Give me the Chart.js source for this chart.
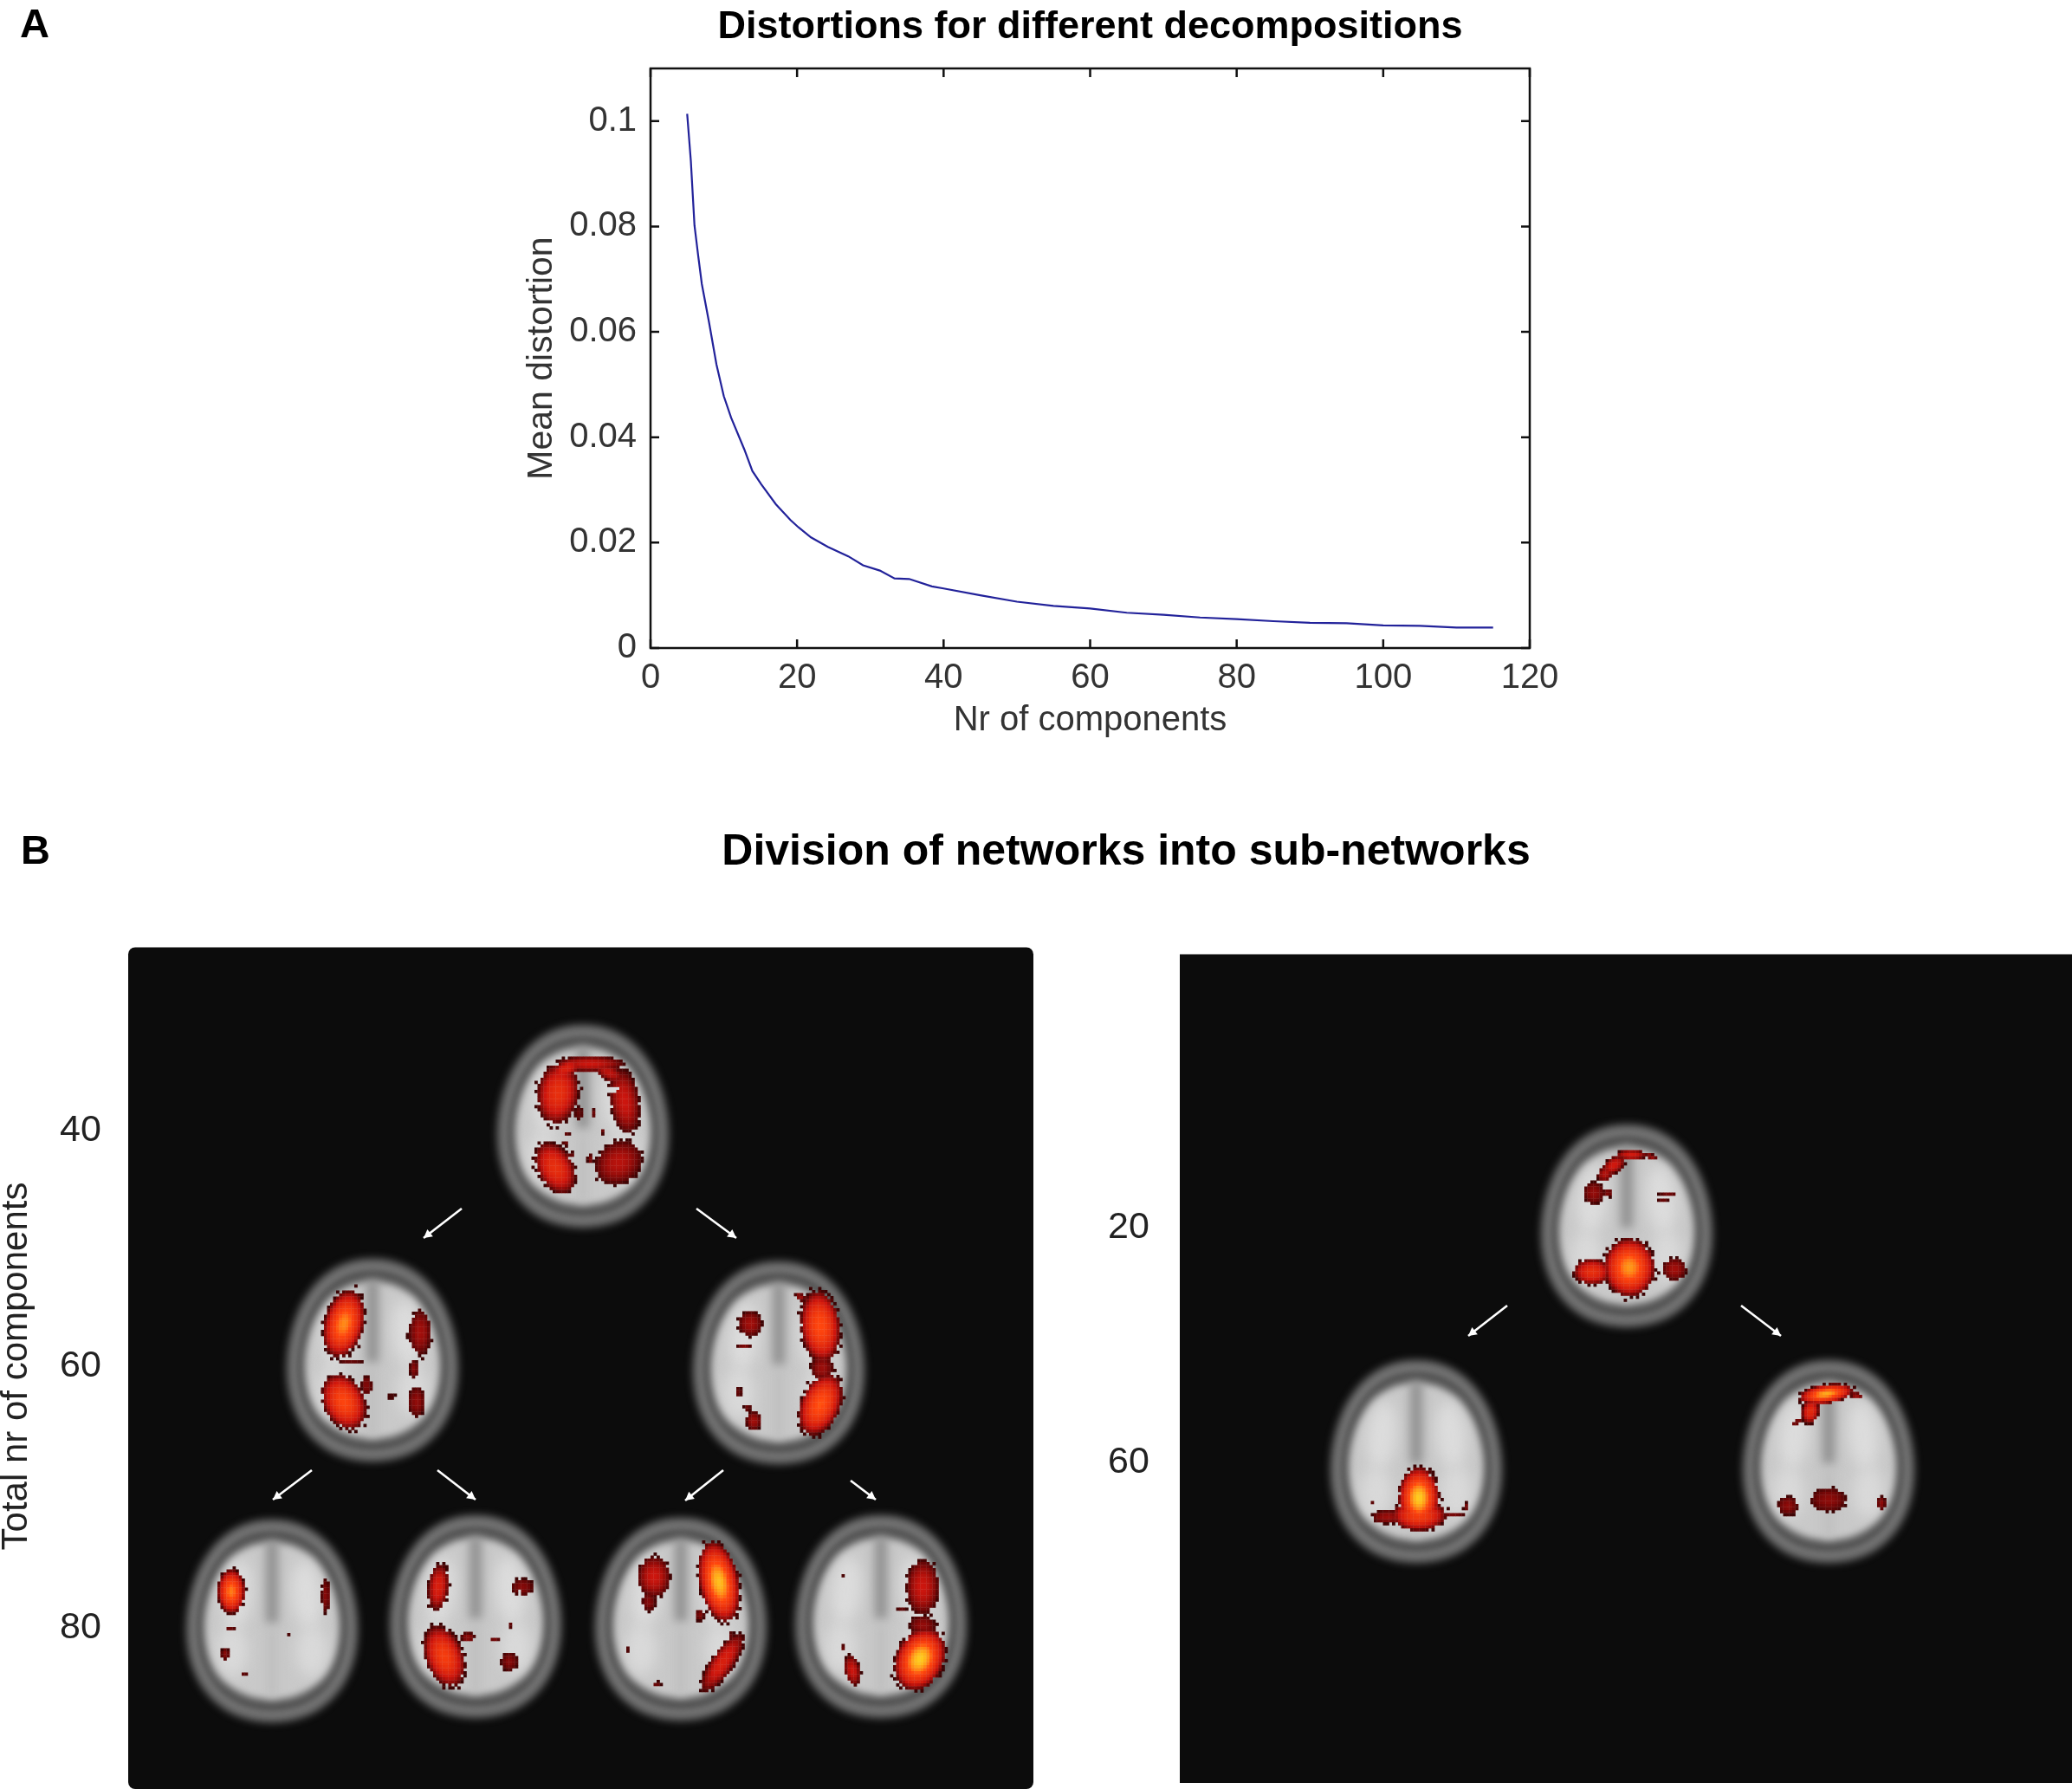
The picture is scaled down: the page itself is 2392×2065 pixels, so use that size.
<!DOCTYPE html>
<html>
<head>
<meta charset="utf-8">
<title>Distortions for different decompositions</title>
<script src="https://cdn.jsdelivr.net/npm/chart.js@4"></script>
<style>
  html, body { margin: 0; background: #fff; }
  canvas { position: absolute; left: 0; }
  #myChart { top: 0; }
  #brainChart { top: 880px; }
</style>
</head>
<body>
<canvas id="brainChart" width="2392" height="1185"></canvas>
<canvas id="myChart" width="2392" height="880"></canvas>
<script>
/*********************panel A data ***********************/
let nrComponents = [5, 5.5, 6, 6.5, 7, 8, 9, 10, 11, 12.8, 13.9, 15.1, 17.1, 19.1, 20.2, 21.9, 24.2, 27, 29, 31.3, 33.3, 35.3, 38.4, 40, 45, 50, 55, 60, 65, 70, 75, 80, 85, 90, 95, 100, 105, 110, 115];
let meanDistortion = [0.1014, 0.0925, 0.0802, 0.0745, 0.0691, 0.0617, 0.0538, 0.0478, 0.0437, 0.0377, 0.0336, 0.0311, 0.0273, 0.0243, 0.0229, 0.0210, 0.0192, 0.0174, 0.0157, 0.0147, 0.0132, 0.0131, 0.0117, 0.0113, 0.0100, 0.0088, 0.0080, 0.0075, 0.0067, 0.0063, 0.0058, 0.0055, 0.0051, 0.0048, 0.0047, 0.0043, 0.0042, 0.0039, 0.0039];

/*********************panel B data ***********************/
// brain slices, same order in all three arrays
let brainX = [673, 430, 899, 314, 549, 786, 1017, 1878, 1635, 2111];
let brainY = [1300, 1570, 1573, 1871, 1866, 1869, 1866, 1415, 1687, 1687];
// activation blobs of every slice: dx, dy, rx, ry, rotation, peak (peak 0 cuts a hole)
let brainBlobs = [
  [[-29,-38,24,36,0.15,0.62],[8,-72,40,9,0,0.42],[-20,-66,22,10,-0.5,0.5],[30,-62,20,9,0.5,0.38],[48,-29,17,38,-0.15,0.42],[-32,48,21,32,-0.5,0.62],[41,42,29,24,-0.6,0.36],[34,-42,6,5,0,0],[28,-30,3,4,0,0],[-14,38,3,3,0,0],[-5,-15,5,8,0,0.12],[-20,20,4,3,0,0.15],[12,-15,3,5,0,0.15],[-14,36,3,8,0,0.18],[8,38,3,6,0,0.2],[-18,8,3,2,0,0.15],[22,6,3,3,0,0.15]],
  [[-33,-42,23,40,0.25,0.9],[55,-32,13,27,0,0.3],[-33,48,24,34,-0.45,0.78],[51,48,10,18,0,0.25],[-7,29,6,11,0,0.22],[48,10,5,11,0,0.22],[-25,2,14,2,0,0.12],[22,42,8,2,0,0.12],[-1,30,2,6,0,0.12],[44,-28,8,2,0,0.2]],
  [[-33,-45,14,15,0,0.3],[48,-42,23,42,-0.1,0.8],[48,48,23,38,0.4,0.82],[50,6,13,15,0,0.28],[-29,67,9,11,0,0.3],[-40,-19,8,2,0,0.2],[-46,34,3,6,0,0.15],[-36,52,4,4,0,0.15],[25,-76,7,4,0.6,0.28]],
  [[-47,-34,16,26,0,0.88],[62,-29,5,20,0,0.22],[-54,38,5,7,0,0.22],[-32,62,4,3,0,0.12],[20,17,4,1.5,0,0.12],[-48,8,6,3,0,0.14]],
  [[-43,-34,12,27,0.1,0.5],[-36,46,22,37,-0.35,0.72],[54,-34,13,10,0,0.22],[39,52,10,11,0,0.22],[-9,24,8,6,0,0.25],[22,27,6,2,0,0.2],[-45,12,7,2,0,0.12],[40,10,3,3,0,0.12],[50,-28,3,3,0,0]],
  [[-31,-49,19,24,0,0.42],[-37,-20,8,11,0,0.22],[44,-43,23,48,-0.2,0.98],[48,50,13,40,0.6,0.5],[-28,75,5,3,0,0.15],[-60,35,2,5,0,0.1],[22,-5,5,7,0,0.2],[58,18,3,3,0,0.15]],
  [[48,-34,19,32,0,0.42],[45,49,28,38,0.45,1],[48,10,15,11,0,0.26],[-33,62,9,18,-0.2,0.42],[-45,-46,5,1.5,0,0.15],[-44,36,3,4,0,0.12],[24,-8,6,2,0,0.12]],
  [[3,48,30,34,0,0.92],[-40,53,22,15,0,0.62],[55,50,14,13,0,0.3],[5,-82,18,6,0,0.45],[-15,-70,15,9,-0.6,0.45],[-25,-60,10,8,-0.8,0.35],[-38,-38,12,13,0,0.26],[-22,-38,6,5,0,0.2],[48,-37,10,3,0,0.16],[44,-46,4,2,0,0],[28,-80,7,3,0.4,0.3],[42,-30,6,2,0,0.14]],
  [[3,42,24,36,0,1],[3,62,32,18,0,0.72],[-33,64,19,8,0,0.28],[42,61,14,3,0,0.18],[-52,47,2,2,0,0.15],[57,52,3,5,0,0.18]],
  [[-3,-78,32,11,-0.15,0.95],[-21,-58,10,15,0.2,0.58],[-36,-46,9,3,-0.5,0.2],[32,-76,8,4,0.3,0.28],[0,44,21,14,0,0.24],[-47,51,12,11,0,0.24],[61,48,5,8,0,0.24]]
];
// arrows: start and tip of every one
let arrowFromX = [533, 804, 360, 505, 835, 982, 1740, 2010];
let arrowFromY = [1395, 1395, 1697, 1697, 1697, 1709, 1507, 1507];
let arrowToX = [489, 850, 315, 549, 791, 1011, 1695, 2056];
let arrowToY = [1429, 1429, 1731, 1731, 1732, 1731, 1542, 1542];
// component labels next to the black panels
let rowLabels = ['40', '60', '80', '20', '60'];
let rowLabelX = [93, 93, 93, 1303, 1303];
let rowLabelY = [1305, 1577, 1879, 1417, 1688];

const FONT = '"Liberation Sans", Arial, sans-serif';

/*********************panel A ***********************/
// matlab style box: ticks go inwards on all four sides
const matlabBox = {
  id: 'matlabBox',
  afterDraw(chart) {
    const c = chart.ctx, a = chart.chartArea;
    c.save();
    c.strokeStyle = '#111';
    c.lineWidth = 2.5;
    c.strokeRect(a.left, a.top, a.right - a.left, a.bottom - a.top);
    c.beginPath();
    chart.scales.x.ticks.forEach(t => {
      const p = chart.scales.x.getPixelForValue(t.value);
      c.moveTo(p, a.bottom); c.lineTo(p, a.bottom - 10);
      c.moveTo(p, a.top); c.lineTo(p, a.top + 10);
    });
    chart.scales.y.ticks.forEach(t => {
      const p = chart.scales.y.getPixelForValue(t.value);
      c.moveTo(a.left, p); c.lineTo(a.left + 10, p);
      c.moveTo(a.right, p); c.lineTo(a.right - 10, p);
    });
    c.stroke();
    c.fillStyle = '#000';
    c.font = 'bold 47px ' + FONT;
    c.textAlign = 'center';
    c.textBaseline = 'middle';
    c.fillText('A', 40, 30);
    c.restore();
  }
};

var ctx = document.getElementById('myChart');
var myChart = new Chart(ctx, {
  type: 'scatter',
  data: {
    datasets: [{
      label: 'Mean distortion',
      data: nrComponents.map((n, i) => ({ x: n, y: meanDistortion[i] })),
      showLine: true,
      borderColor: '#22229a',
      borderWidth: 2.2,
      pointRadius: 0,
      tension: 0
    }]
  },
  options: {
    responsive: false,
    animation: false,
    devicePixelRatio: 1,
    layout: { padding: { left: 601, right: 626, top: 0, bottom: 24 } },
    plugins: {
      legend: { display: false },
      tooltip: { enabled: false },
      title: {
        display: true,
        fullSize: false,
        text: 'Distortions for different decompositions',
        color: '#000',
        font: { family: FONT, size: 45, weight: 'bold', lineHeight: 1.2 },
        padding: { top: 5, bottom: 20 }
      }
    },
    scales: {
      x: {
        type: 'linear', min: 0, max: 120,
        grid: { display: false },
        border: { display: false },
        afterFit(s) { s.height = 108; },
        ticks: { stepSize: 20, padding: 3, maxRotation: 0, color: '#333', font: { family: FONT, size: 40 } },
        title: { display: true, text: 'Nr of components', color: '#333', padding: 0, font: { family: FONT, size: 40 } }
      },
      y: {
        type: 'linear', min: 0, max: 0.11,
        grid: { display: false },
        border: { display: false },
        afterFit(s) { s.width = 150; },
        ticks: {
          stepSize: 0.02, includeBounds: false, padding: 8, color: '#333', font: { family: FONT, size: 40 },
          callback: v => String(+v.toFixed(2))
        },
        title: { display: true, text: 'Mean distortion', color: '#333', padding: 0, font: { family: FONT, size: 41 } }
      }
    }
  },
  plugins: [matlabBox]
});

/*********************panel B ***********************/
function egg(c, rx, ry) {
  c.beginPath();
  c.moveTo(0, -ry);
  c.bezierCurveTo(rx * 0.72, -ry, rx, -ry * 0.38, rx, ry * 0.08);
  c.bezierCurveTo(rx, ry * 0.62, rx * 0.62, ry, 0, ry);
  c.bezierCurveTo(-rx * 0.62, ry, -rx, ry * 0.62, -rx, ry * 0.08);
  c.bezierCurveTo(-rx, -ry * 0.38, -rx * 0.72, -ry, 0, -ry);
  c.fill();
}

function soft(c, blur, color, fn) {
  c.filter = 'blur(' + blur + 'px)';
  c.fillStyle = color;
  fn();
  c.filter = 'none';
}

function hot(v) {
  const stops = [[0, 60, 4, 4], [0.18, 120, 8, 8], [0.42, 205, 22, 14], [0.8, 255, 70, 14], [1, 255, 205, 30]];
  for (let i = 1; i < stops.length; i++) {
    if (v <= stops[i][0]) {
      const a = stops[i - 1], b = stops[i], t = (v - a[0]) / (b[0] - a[0]);
      return 'rgb(' + [1, 2, 3].map(k => Math.round(a[k] + (b[k] - a[k]) * t)).join(',') + ')';
    }
  }
  return 'rgb(255,205,30)';
}

function drawBrain(c, cx, cy, blobs) {
  c.save();
  c.translate(cx, cy);
  soft(c, 5, '#737373', () => egg(c, 99, 117));
  soft(c, 3, '#555555', () => egg(c, 87, 104));
  soft(c, 4, '#c9c9c9', () => egg(c, 78, 91));
  soft(c, 8, '#dcdcdc', () => { c.beginPath(); c.ellipse(-40, -30, 17, 40, 0.1, 0, 7); c.ellipse(40, -30, 17, 40, -0.1, 0, 7); c.fill(); });
  soft(c, 8, '#d9d9d9', () => { c.beginPath(); c.ellipse(-46, 35, 18, 30, 0, 0, 7); c.ellipse(46, 35, 18, 30, 0, 0, 7); c.fill(); });
  soft(c, 6, '#8f8f8f', () => c.fillRect(-7, -92, 14, 95));
  soft(c, 6, '#bdbdbd', () => c.fillRect(-5, 8, 10, 80));
  // voxels of the activation map, edges made rough so the blobs are not plain ellipses
  const vox = 3.5;
  for (let gy = -100; gy < 100; gy++) {
    for (let gx = -30; gx < 30; gx++) {
      const x = gx * vox + vox / 2, y = gy * vox + vox / 2;
      const rough = 1 + 0.16 * Math.sin(x * 0.77 + y * 1.31) + 0.1 * Math.sin(x * 1.9 - y * 0.63);
      let v = -1, hole = false;
      blobs.forEach(b => {
        const cs = Math.cos(b[4]), sn = Math.sin(b[4]);
        const px = x - b[0], py = y - b[1];
        const u = (px * cs + py * sn) / b[2], w = (-px * sn + py * cs) / b[3];
        const d = u * u + w * w;
        if (d * (d > 0.55 ? rough : 1) < 1) {
          if (b[5] === 0) hole = true;
          else v = Math.max(v, b[5] * Math.pow(Math.max(0, 1 - d), 0.85));
        }
      });
      if (v >= 0 && !hole) {
        c.fillStyle = hot(v);
        c.fillRect(gx * vox, gy * vox, vox + 0.3, vox + 0.3);
      }
    }
  }
  c.restore();
}

const brainPanel = {
  id: 'brainPanel',
  beforeDatasetsDraw(chart) {
    const c = chart.ctx, sx = chart.scales.x, sy = chart.scales.y;
    const box = (x0, y0, x1, y1, r) => {
      c.beginPath();
      c.roundRect(sx.getPixelForValue(x0), sy.getPixelForValue(y0), sx.getPixelForValue(x1) - sx.getPixelForValue(x0), sy.getPixelForValue(y1) - sy.getPixelForValue(y0), r);
      c.fill();
    };
    c.save();
    c.fillStyle = '#0c0c0c';
    box(148, 1093.5, 1193, 2065, 8);
    box(1362, 1101.5, 2392, 2058, 0);
    c.restore();
  },
  afterDatasetsDraw(chart) {
    const c = chart.ctx, sx = chart.scales.x, sy = chart.scales.y;
    chart.getDatasetMeta(0).data.forEach((pt, i) => drawBrain(c, pt.x, pt.y, brainBlobs[i]));
    c.save();
    // arrows
    c.strokeStyle = '#fff';
    c.fillStyle = '#fff';
    c.lineWidth = 2.6;
    arrowFromX.forEach((fx, i) => {
      const x0 = sx.getPixelForValue(fx), y0 = sy.getPixelForValue(arrowFromY[i]);
      const x1 = sx.getPixelForValue(arrowToX[i]), y1 = sy.getPixelForValue(arrowToY[i]);
      const ang = Math.atan2(y1 - y0, x1 - x0);
      c.beginPath(); c.moveTo(x0, y0); c.lineTo(x1, y1); c.stroke();
      c.beginPath();
      c.moveTo(x1, y1);
      c.lineTo(x1 - 11 * Math.cos(ang - 0.5), y1 - 11 * Math.sin(ang - 0.5));
      c.lineTo(x1 - 11 * Math.cos(ang + 0.5), y1 - 11 * Math.sin(ang + 0.5));
      c.fill();
    });
    // text
    c.textBaseline = 'middle';
    c.textAlign = 'center';
    c.fillStyle = '#222';
    c.font = '43px ' + FONT;
    rowLabels.forEach((t, i) => c.fillText(t, sx.getPixelForValue(rowLabelX[i]), sy.getPixelForValue(rowLabelY[i])));
    c.save();
    c.translate(sx.getPixelForValue(19), sy.getPixelForValue(1577));
    c.rotate(-Math.PI / 2);
    c.font = '42px ' + FONT;
    c.fillText('Total nr of components', 0, 0);
    c.restore();
    c.fillStyle = '#000';
    c.font = 'bold 47px ' + FONT;
    c.fillText('B', sx.getPixelForValue(41), sy.getPixelForValue(984));
    c.font = 'bold 50px ' + FONT;
    c.fillText('Division of networks into sub-networks', sx.getPixelForValue(1300), sy.getPixelForValue(984));
    c.restore();
  }
};

var brainChart = new Chart(document.getElementById('brainChart'), {
  type: 'scatter',
  data: {
    datasets: [{
      label: 'slices',
      data: brainX.map((x, i) => ({ x: x, y: brainY[i] })),
      pointRadius: 0
    }]
  },
  options: {
    responsive: false,
    animation: false,
    devicePixelRatio: 1,
    layout: { padding: 0 },
    plugins: { legend: { display: false }, tooltip: { enabled: false } },
    scales: {
      x: { type: 'linear', min: 0, max: 2392, display: false },
      y: { type: 'linear', min: 880, max: 2065, reverse: true, display: false }
    }
  },
  plugins: [brainPanel]
});
</script>
</body>
</html>
